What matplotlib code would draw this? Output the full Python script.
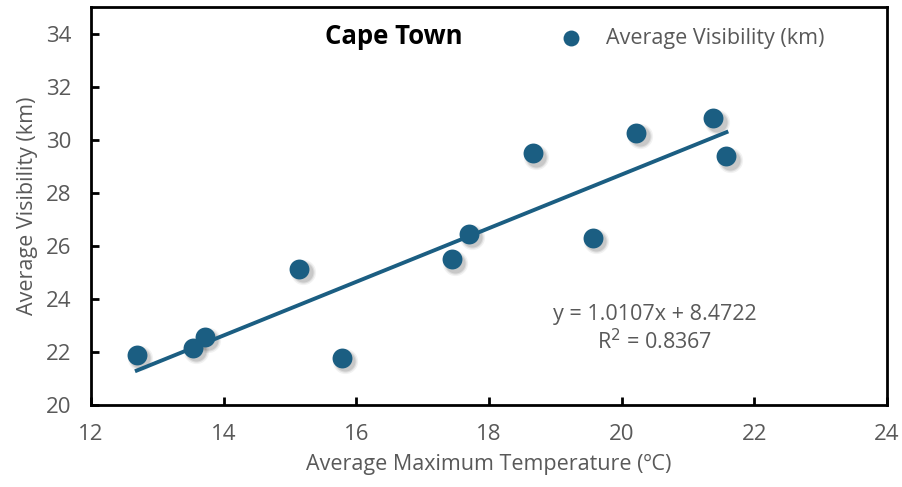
import numpy as np
import matplotlib.pyplot as plt

# Cape Town monthly averages
temp = [12.69, 13.54, 13.72, 15.14, 15.78, 17.44, 17.70, 18.66, 19.57, 20.22, 21.38, 21.58]
vis = [21.88, 22.15, 22.56, 25.12, 21.77, 25.49, 26.44, 29.48, 26.29, 30.27, 30.80, 29.37]
slope = 1.0107
intercept = 8.4722
r2 = 0.8367

plt.rcParams['font.family'] = ['Open Sans', 'DejaVu Sans']
blue = '#1b5e82'
grey = '#595959'
fs = 15.5

fig = plt.figure(figsize=(9.02, 4.87), dpi=100)
ax = fig.add_axes([0.1009, 0.1684, 0.8825, 0.8172])

# soft drop shadow under the points
for grow, a in [(330, 0.05), (260, 0.08), (210, 0.10)]:
    ax.scatter(np.array(temp) + 0.05, np.array(vis) - 0.12, s=grow, color='#000000',
               alpha=a, linewidths=0, zorder=2)
ax.scatter(temp, vis, s=205, color=blue, linewidths=0, zorder=3,
           label='Average Visibility (km)')

xs = np.array([min(temp), max(temp)])
ax.plot(xs, slope * xs + intercept, color=blue, lw=2.8, zorder=2.5)

ax.set_xlim(12, 24)
ax.set_ylim(20, 35)
ax.set_xticks(np.arange(12, 25, 2))
ax.set_yticks(np.arange(20, 35, 2))
ax.tick_params(direction='in', length=6, width=2, labelsize=16,
               labelcolor=grey, pad=14)
for sp in ax.spines.values():
    sp.set_linewidth(2)

ax.set_xlabel('Average Maximum Temperature (ºC)', fontsize=fs, color=grey, labelpad=6)
ax.set_ylabel('Average Visibility (km)', fontsize=fs, color=grey, labelpad=6)

ax.text(0.38, 0.926, 'Cape Town', transform=ax.transAxes, ha='center', va='center',
        fontsize=18.5, fontweight='bold', color='black')

ax.text(0.708, 0.19, f'y = {slope}x + {intercept}\nR$^2$ = {r2}', transform=ax.transAxes,
        ha='center', va='center', fontsize=fs, color=grey, linespacing=1.2)

leg = ax.legend(loc='upper right', bbox_to_anchor=(0.94, 0.985), frameon=False,
                fontsize=fs, handletextpad=0.6, borderaxespad=0.3, markerscale=0.8)
for t in leg.get_texts():
    t.set_color(grey)

fig.savefig('out.png', dpi=100)
